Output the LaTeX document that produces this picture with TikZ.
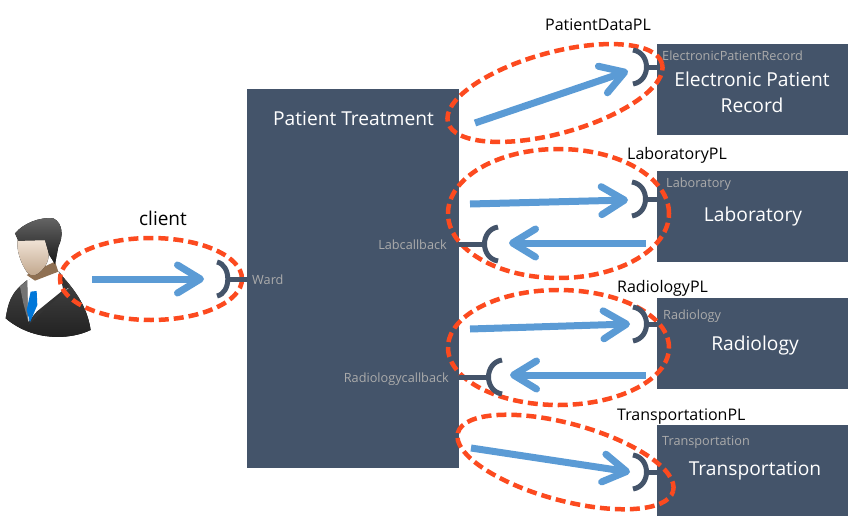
\documentclass[tikz,border=0pt]{standalone}
\usepackage{fontspec}
\setmainfont{Open Sans}
\usetikzlibrary{arrows.meta,shapes.geometric}
\definecolor{boxblue}{HTML}{44546A}
\definecolor{flowblue}{HTML}{5B9BD5}
\definecolor{ringred}{HTML}{FC4A1F}
\definecolor{portgray}{HTML}{ABABAB}
\tikzset{
    compbox/.style={fill=boxblue, draw=none, inner sep=0pt, outer sep=0pt},
    boxtitle/.style={text=white, font=\fontsize{19.2}{26}\selectfont, align=center, inner sep=0pt},
    portlabel/.style={text=portgray, font=\fontsize{12.7}{14}\selectfont, inner sep=0pt},
    pllabel/.style={text=black, font=\fontsize{16}{18}\selectfont, inner sep=0pt},
    ring/.style={ellipse, draw=ringred, line width=4.5pt, dash pattern=on 10pt off 5pt, inner sep=0pt, outer sep=0pt},
    flow/.style={draw=flowblue, line width=7pt, -{Straight Barb[length=23pt,width=28pt,round]}},
    stem/.style={draw=boxblue, line width=5pt},
    socket/.pic={
        \coordinate (-mouth) at (14,0);
        \draw[stem] (0,-17) .. controls (18,-14) and (18,14) .. (0,17);
    },
}
\begin{document}
\begin{tikzpicture}[x=1pt, y=-1pt]
    \useasboundingbox (0,0) rectangle (851,522);

    % components
    \fill[compbox] (247,89) rectangle (459,468);
    \coordinate (treat) at (459,0);
    \coordinate (wardedge) at (247,279);
    \node[compbox, minimum width=191pt, minimum height=91pt] (epr) at (752.5,89.5) {};
    \node[compbox, minimum width=191pt, minimum height=91pt] (lab) at (752.5,216.5) {};
    \node[compbox, minimum width=191pt, minimum height=91pt] (rad) at (752.5,343.5) {};
    \node[compbox, minimum width=191pt, minimum height=91pt] (trans) at (752.5,470.5) {};

    % the client
    \begin{scope}[shift={(0,190)}, scale=0.3333]
        \fill[top color=black!72, bottom color=black!88]
            (17,385) .. controls (25,340) and (30,310) .. (80,272) -- (175,245)
            .. controls (215,290) and (260,340) .. (272,420)
            .. controls (210,450) and (100,455) .. (17,385) -- cycle;
        \fill[black!55] (60,290) -- (82,270) -- (85,395) -- (70,340) -- cycle;
        \fill[white] (82,270) -- (175,245) -- (205,295) -- (105,370) -- (85,395) -- cycle;
        \fill[black!80] (178,245) -- (208,290) -- (85,405) -- (110,365) -- (190,300) -- cycle;
        \fill[blue!45!cyan!85!black] (92,305) -- (110,303) -- (112,345) -- (90,397) -- (80,360) -- cycle;
        \fill[brown!60!black!80] (80,255) -- (165,215) -- (175,245) -- (105,272) -- cycle;
        \fill[top color=brown!20!white, bottom color=brown!50!white!85!black]
            (52,150) -- (138,145) .. controls (150,180) and (150,215) .. (130,235)
            .. controls (115,255) and (95,265) .. (80,245)
            .. controls (60,215) and (50,180) .. (52,150) -- cycle;
        \fill[top color=black!60, bottom color=black!90]
            (45,130) .. controls (70,100) and (120,80) .. (160,85)
            .. controls (190,100) and (190,140) .. (175,170)
            -- (165,222) -- (148,195) -- (135,150) -- (55,152) -- cycle;
    \end{scope}

    % rings
    \node[ring, minimum width=182pt, minimum height=82pt] (clientring) at (151,279) {};
    \node[ring, minimum width=222pt, minimum height=81pt, rotate=15.4] (eprring) at (555,93) {};
    \node[ring, minimum width=221pt, minimum height=129pt] (labring) at (558.5,213.5) {};
    \node[ring, minimum width=221pt, minimum height=115pt] (radring) at (558.5,347.5) {};
    \node[ring, minimum width=223pt, minimum height=77pt, rotate=-15.2] (transring) at (565.5,462) {};

    % sockets
    \pic[xscale=0.8] (wardsock) at (217,279) {socket};
    \pic (eprsock) at (633,67) {socket};
    \pic (labsock) at (632,199) {socket};
    \pic (radsock) at (633,324) {socket};
    \pic (transsock) at (633,472) {socket};
    \pic[xscale=-1] (labback) at (498,244) {socket};
    \pic[xscale=-1] (radback) at (502,377) {socket};
    \draw[stem] (wardsock-mouth) -- (wardedge);
    \draw[stem] (eprsock-mouth) -- (epr.west |- eprsock-mouth);
    \draw[stem] (labsock-mouth) -- (lab.west |- labsock-mouth);
    \draw[stem] (radsock-mouth) -- (rad.west |- radsock-mouth);
    \draw[stem] (transsock-mouth) -- (trans.west |- transsock-mouth);
    \draw[stem] (labback-mouth) -- (treat |- labback-mouth);
    \draw[stem] (radback-mouth) -- (treat |- radback-mouth);

    % calls
    \coordinate (clientout) at (92,279);
    \coordinate (wardin) at (204,279);
    \coordinate (eprout) at (475,123);
    \coordinate (eprin) at (628,71);
    \coordinate (labout) at (470,204);
    \coordinate (labin) at (628,200);
    \coordinate (labret) at (646,243);
    \coordinate (labend) at (509,243);
    \coordinate (radout) at (470,329);
    \coordinate (radin) at (630,324);
    \coordinate (radret) at (646,375);
    \coordinate (radend) at (510,375);
    \coordinate (transout) at (471,448);
    \coordinate (transin) at (630,472);
    \draw[flow] (clientout) -- (wardin);
    \draw[flow] (eprout) -- (eprin);
    \draw[flow] (labout) -- (labin);
    \draw[flow] (labret) -- (labend);
    \draw[flow] (radout) -- (radin);
    \draw[flow] (radret) -- (radend);
    \draw[flow] (transout) -- (transin);

    % texts
    \node[boxtitle] (treattitle) at (353.5,119) {Patient Treatment};
    \node[boxtitle] (eprtitle) at (752,92) {Electronic Patient\\Record};
    \node[boxtitle] (labtitle) at (753,217) {Laboratory};
    \node[boxtitle] (radtitle) at (755,346) {Radiology};
    \node[boxtitle] (transtitle) at (755,471) {Transportation};
    \node[portlabel, anchor=west] (wardport) at (252,280) {Ward};
    \node[portlabel, anchor=east] (labport) at (447,245) {Labcallback};
    \node[portlabel, anchor=east] (radbackport) at (449,379) {Radiologycallback};
    \node[portlabel, anchor=west] (eprport) at (662,56) {ElectronicPatientRecord};
    \node[portlabel, anchor=west] (labinport) at (666,184) {Laboratory};
    \node[portlabel, anchor=west] (radinport) at (663,316) {Radiology};
    \node[portlabel, anchor=west] (transport) at (662,442) {Transportation};
    \node[pllabel, font=\fontsize{19}{21}\selectfont] (clientpl) at (163,218) {client};
    \node[pllabel, anchor=west] (eprpl) at (545,25) {PatientDataPL};
    \node[pllabel, anchor=west] (labpl) at (627,155) {LaboratoryPL};
    \node[pllabel, anchor=west] (radpl) at (617,288) {RadiologyPL};
    \node[pllabel, anchor=west] (transpl) at (617,417) {TransportationPL};
\end{tikzpicture}
\end{document}
